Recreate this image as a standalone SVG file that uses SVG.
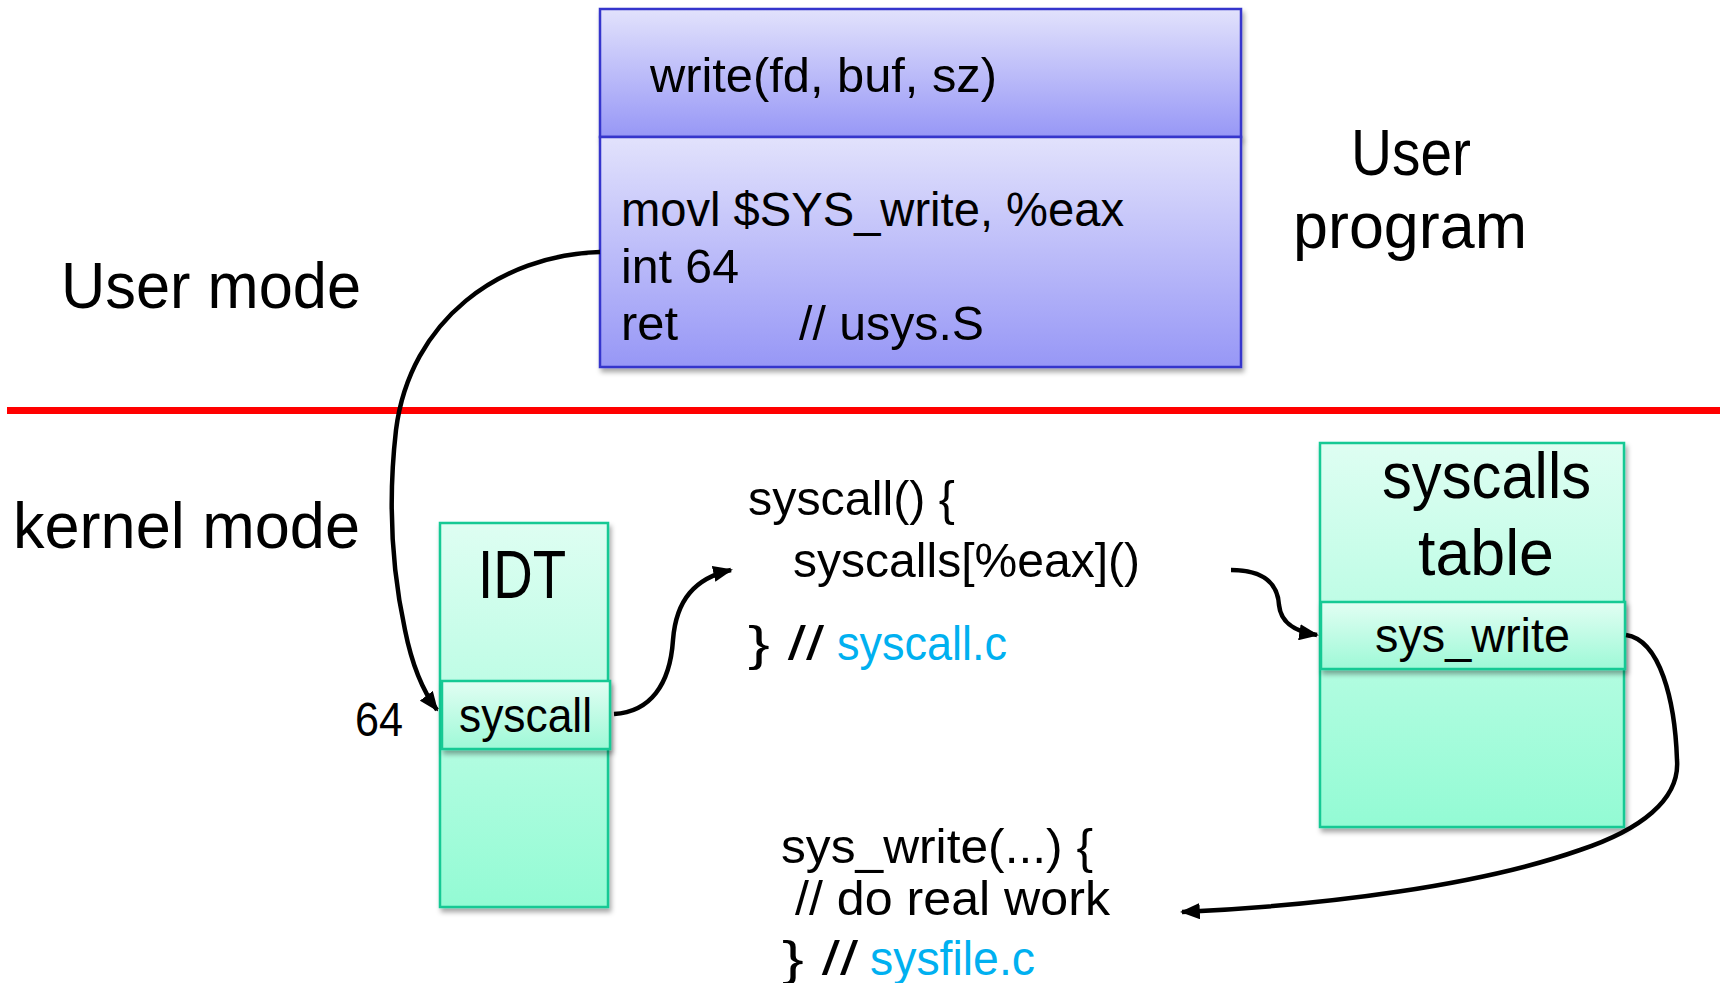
<svg xmlns="http://www.w3.org/2000/svg" width="1727" height="983" viewBox="0 0 1727 983">
  <style>
    text { font-family: "Liberation Sans", Arial, sans-serif; fill: #000; }
    .code { font-size: 48px; }
    .big { font-size: 64px; }
    .link { fill: #00b0f0; }
    .ubox { fill: url(#blueGrad); stroke: #3535cc; stroke-width: 2.5; filter: url(#shadow); }
    .kbox { fill: url(#tealGrad); stroke: #16c994; stroke-width: 2.5; filter: url(#shadow); }
    .krow { fill: url(#rowGrad); stroke: #16c994; stroke-width: 2.5; filter: url(#shadow); }
    .conn { fill: none; stroke: #000; stroke-width: 4.5; marker-end: url(#arrow); }
  </style>
  <defs>
    <linearGradient id="blueGrad" x1="0" y1="0" x2="0" y2="1">
      <stop offset="0" stop-color="#e2e2fc"/>
      <stop offset="1" stop-color="#9797f6"/>
    </linearGradient>
    <linearGradient id="tealGrad" x1="0" y1="0" x2="0" y2="1">
      <stop offset="0" stop-color="#defef2"/>
      <stop offset="1" stop-color="#93fbd4"/>
    </linearGradient>
    <linearGradient id="rowGrad" x1="0" y1="0" x2="0" y2="1">
      <stop offset="0" stop-color="#e2fef3"/>
      <stop offset="1" stop-color="#9ef9d7"/>
    </linearGradient>
    <filter id="shadow" x="-10%" y="-10%" width="120%" height="130%">
      <feDropShadow dx="2" dy="4" stdDeviation="2.5" flood-color="#000" flood-opacity="0.35"/>
    </filter>
    <marker id="arrow" viewBox="0 0 10 10" refX="9" refY="5" markerWidth="4.4" markerHeight="3.6" orient="auto" markerUnits="strokeWidth" preserveAspectRatio="none">
      <path d="M0,0 L10,5 L0,10 z" fill="#000"/>
    </marker>
  </defs>

  <!-- mode labels and the user/kernel boundary -->
  <g id="mode-labels">
    <text class="big" x="61" y="308" textLength="300" lengthAdjust="spacingAndGlyphs">User mode</text>
    <text class="big" x="13" y="548" textLength="347" lengthAdjust="spacingAndGlyphs">kernel mode</text>
  </g>
  <line id="boundary" x1="7" y1="410.5" x2="1720" y2="410.5" stroke="#ff0000" stroke-width="7"/>

  <!-- user program: write() wrapper and its assembly stub -->
  <g id="user-write">
    <rect class="ubox" x="600" y="9" width="641" height="128"/>
    <text class="code" x="650" y="92" font-size="50" textLength="347" lengthAdjust="spacingAndGlyphs">write(fd, buf, sz)</text>
  </g>
  <g id="user-stub">
    <rect class="ubox" x="600" y="137" width="641" height="230"/>
    <text class="code" x="621" y="226" textLength="503" lengthAdjust="spacingAndGlyphs">movl $SYS_write, %eax</text>
    <text class="code" x="621" y="283" textLength="118" lengthAdjust="spacingAndGlyphs">int 64</text>
    <text class="code" x="621" y="340" textLength="57" lengthAdjust="spacingAndGlyphs">ret</text>
    <text class="code" x="799" y="340" textLength="185" lengthAdjust="spacingAndGlyphs">// usys.S</text>
  </g>
  <g id="user-program-label">
    <text class="big" x="1351" y="175" font-size="62" textLength="120" lengthAdjust="spacingAndGlyphs">User</text>
    <text class="big" x="1293" y="248" font-size="62" textLength="234" lengthAdjust="spacingAndGlyphs">program</text>
  </g>

  <!-- interrupt descriptor table -->
  <g id="idt">
    <rect class="kbox" x="440" y="523" width="168" height="384"/>
    <text x="478" y="598" font-size="68" textLength="88" lengthAdjust="spacingAndGlyphs">IDT</text>
  </g>
  <g id="idt-syscall">
    <rect class="krow" x="442" y="681" width="168" height="68"/>
    <text class="code" x="459" y="732" textLength="133" lengthAdjust="spacingAndGlyphs">syscall</text>
  </g>
  <text id="vector-64" class="code" x="355" y="736" textLength="48" lengthAdjust="spacingAndGlyphs">64</text>

  <!-- syscall dispatcher -->
  <g id="syscall-fn">
    <text class="code" x="748" y="515" textLength="207" lengthAdjust="spacingAndGlyphs">syscall() {</text>
    <text class="code" x="793" y="577" textLength="347" lengthAdjust="spacingAndGlyphs">syscalls[%eax]()</text>
    <text class="code" x="748" y="660" textLength="76" lengthAdjust="spacingAndGlyphs">} //</text>
    <text class="code link" x="837" y="660" textLength="170" lengthAdjust="spacingAndGlyphs">syscall.c</text>
  </g>

  <!-- system call table -->
  <g id="syscalls-table">
    <rect class="kbox" x="1320" y="443" width="304" height="384"/>
    <text class="big" x="1382" y="498" font-size="62" textLength="209" lengthAdjust="spacingAndGlyphs">syscalls</text>
    <text class="big" x="1418" y="575" font-size="62" textLength="136" lengthAdjust="spacingAndGlyphs">table</text>
  </g>
  <g id="table-sys-write">
    <rect class="krow" x="1321" y="602" width="304" height="67"/>
    <text class="code" x="1375" y="652" textLength="195" lengthAdjust="spacingAndGlyphs">sys_write</text>
  </g>

  <!-- handler implementation -->
  <g id="sys-write-fn">
    <text class="code" x="781" y="863" textLength="312" lengthAdjust="spacingAndGlyphs">sys_write(...) {</text>
    <text class="code" x="795" y="915" textLength="315" lengthAdjust="spacingAndGlyphs">// do real work</text>
    <text class="code" x="782" y="975" textLength="76" lengthAdjust="spacingAndGlyphs">} //</text>
    <text class="code link" x="870" y="975" textLength="165" lengthAdjust="spacingAndGlyphs">sysfile.c</text>
  </g>

  <!-- control-flow connectors -->
  <g id="connectors">
    <path class="conn" d="M600,252 C500,255 410,320 396,430 C388,500 392,570 405,630 C412,665 422,690 437,710"/>
    <path class="conn" d="M614,714 C650,712 670,685 673,640 C676,600 695,578 731,570"/>
    <path class="conn" d="M1231,570 C1265,570 1278,585 1279,605 C1281,625 1298,632 1317,635"/>
    <path class="conn" d="M1626,635 C1660,640 1675,700 1677,760 C1680,800 1640,830 1580,850 C1480,885 1330,905 1182,912"/>
  </g>
</svg>
